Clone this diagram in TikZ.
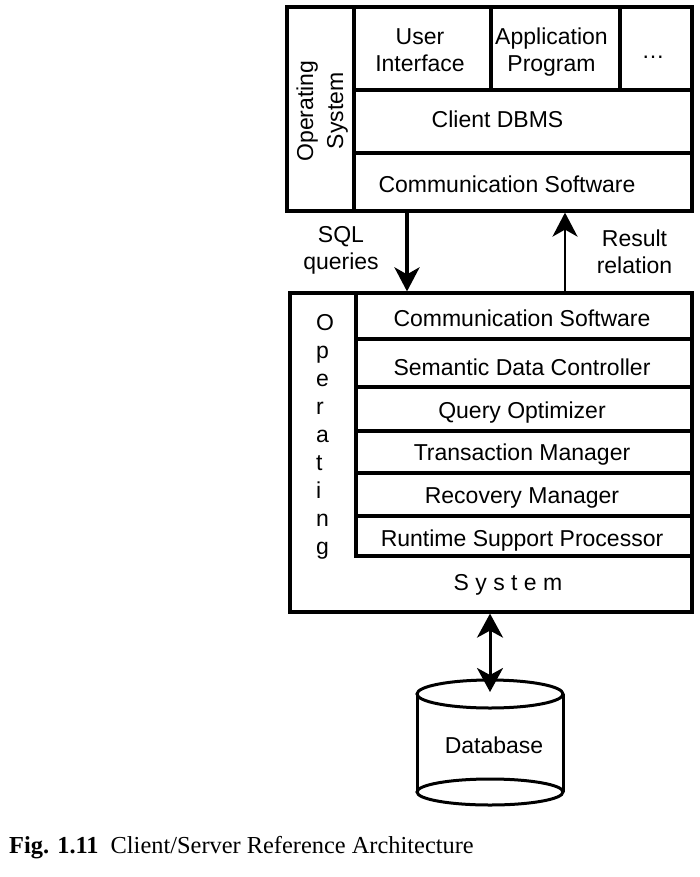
\documentclass[tikz,border=0pt]{standalone}
\usepackage{fontspec}
\setmainfont{Liberation Sans}
\newfontfamily\capfont{Liberation Serif}
\usetikzlibrary{arrows.meta}
\newcommand\stk[1]{\vtop{\halign{\hfil##\hfil\cr#1\crcr}}}
\newcommand\lstk[1]{\vtop{\halign{##\hfil\cr#1\crcr}}}
\begin{document}
\begin{tikzpicture}[x=1pt,y=-1pt,
  box/.style={draw, line width=3.2pt, inner sep=0pt},
  grid/.style={line width=3.2pt, line cap=rect},
  lbl/.style={font=\fontsize{23}{27}\selectfont, inner sep=0pt, anchor=base},
  tip/.style={-{Stealth[length=24pt,width=25pt,inset=7pt]}},
  dtip/.style={{Stealth[length=24pt,width=26pt,inset=7pt]}-{Stealth[length=24pt,width=26pt,inset=7pt]}}]
\useasboundingbox (0,0) rectangle (700,877);

% client box
\node[box, minimum width=405pt, minimum height=204pt] (client) at (489.5,109) {};
\draw[grid] (354,7) -- (354,211);
\draw[grid] (354,90) -- (692,90);
\draw[grid] (354,153) -- (692,153);
\draw[grid] (491,7) -- (491,90);
\draw[grid] (620,7) -- (620,90);
\node[lbl, font=\fontsize{23}{30}\selectfont, rotate=90] (cos) at (313,111) {\stk{Operating\cr System}};
\node[lbl] (ui) at (420,45) {\stk{User\cr Interface}};
\node[lbl] (ap) at (551.5,45) {\stk{Application\cr Program}};
\node[lbl] (dots) at (653,59) {…};
\node[lbl] (cdbms) at (497.5,128) {Client DBMS};
\node[lbl] (ccom) at (507,193) {Communication Software};

% server box
\node[box, minimum width=402pt, minimum height=319pt] (server) at (491,452.5) {};
\draw[line width=3.2pt] (356,293) -- (356,556) -- (692,556);
\foreach \yy in {339,387,431,473,516} \draw[line width=3.2pt] (354.4,\yy) -- (692,\yy);
\node[lbl, anchor=base west, font=\fontsize{23}{28}\selectfont] (sos) at (316,330) {\lstk{O\cr p\cr e\cr r\cr a\cr t\cr i\cr n\cr g}};
\node[lbl] (scom) at (522,326) {Communication Software};
\node[lbl] (sdc) at (522,375) {Semantic Data Controller};
\node[lbl] (qo) at (522,418) {Query Optimizer};
\node[lbl] (tm) at (522,460) {Transaction Manager};
\node[lbl] (rm) at (522,503) {Recovery Manager};
\node[lbl] (rsp) at (522,546) {Runtime Support Processor};
\node[lbl] (sys) at (508,590) {S y s t e m};

% arrows between client and server
\coordinate (sqlx) at (407,0);
\coordinate (resx) at (565,0);
\draw[line width=4pt, tip] (client.south -| sqlx) -- (server.north -| sqlx);
\draw[line width=2.6pt, tip] (server.north -| resx) -- (client.south -| resx);
\node[lbl] (sql) at (341,243) {\stk{SQL\cr queries}};
\node[lbl, font=\fontsize{23}{26}\selectfont] (res) at (634.5,247) {\stk{Result\cr relation}};

% database
\draw[line width=3pt] (417,694) -- (417,792);
\draw[line width=3pt] (563,694) -- (563,792);
\draw[line width=3pt, fill=white] (490,694) ellipse [x radius=73, y radius=14];
\draw[line width=3pt] (490,792) ellipse [x radius=73, y radius=13];
\coordinate (dbtop) at (490,692);
\node[lbl] (db) at (494,753) {Database};
\draw[line width=3pt, dtip] (server.south -| dbtop) -- (dbtop);

% caption
\node[inner sep=0pt, anchor=base west, font=\capfont\fontsize{24.4}{28}\selectfont] (cap) at (9,853) {\textbf{Fig. 1.11}\hspace{12pt}Client/Server Reference Architecture};
\end{tikzpicture}
\end{document}
